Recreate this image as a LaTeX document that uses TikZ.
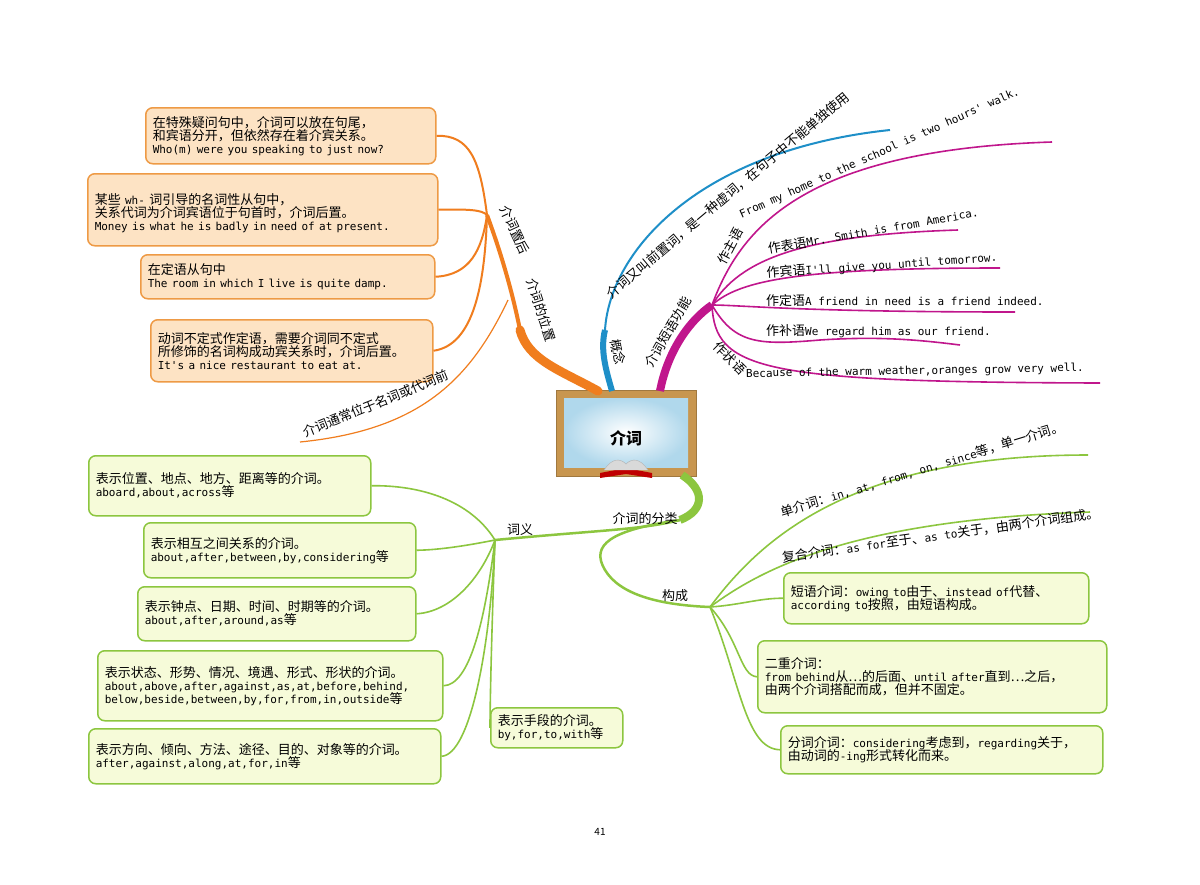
\documentclass[tikz,border=0pt]{standalone}
\usepackage{fontspec}
\setmainfont{Noto Sans CJK SC}
\newfontfamily\en{DejaVu Sans Mono}
\newcommand{\E}[1]{{\en\fontsize{11}{13}\selectfont #1}}
\definecolor{org}{HTML}{F07D1E}
\definecolor{orgfill}{HTML}{FDE3C4}
\definecolor{orgb}{HTML}{EE9A45}
\definecolor{blu}{HTML}{1E8FC8}
\definecolor{mag}{HTML}{C0168C}
\definecolor{grn}{HTML}{8CC63F}
\definecolor{grnfill}{HTML}{F6FBD9}
\definecolor{frame}{HTML}{C8964F}
\begin{document}
\begin{tikzpicture}[x=1pt,y=-1pt,
  txt/.style={font=\fontsize{13}{15}\selectfont,inner sep=1pt},
  bx/.style={line width=1.5pt,rounded corners=7pt,anchor=north west,align=left,font=\fontsize{13}{15}\selectfont,inner xsep=7pt,inner ysep=3pt},
  obox/.style={bx,draw=orgb,fill=orgfill},
  gbox/.style={bx,draw=grn,fill=grnfill},
  ol/.style={org,line width=2pt},
  ml/.style={mag,line width=1.6pt},
  gl/.style={grn,line width=1.6pt}]
\useasboundingbox (0,0) rectangle (1200,884);
\fill[white] (0,0) rectangle (1200,884);

% ---------- centre board ----------
\node[draw=frame!80!black,fill=frame,minimum width=140,minimum height=86,anchor=north west,inner sep=0] (board) at (556,390) {};
\shade[inner color=white,outer color=blu!35] (564,398) rectangle (688,467);
\node[font=\fontsize{16}{18}\selectfont\bfseries] (title) at (626,438) {介词};
\fill[red!75!black] (600,473) -- (626,468) -- (652,473) -- (652,478) -- (626,474) -- (600,478) -- cycle;
\fill[gray!30] (604,470) .. controls (612,458) and (620,458) .. (626,464) .. controls (632,458) and (640,458) .. (648,470) -- (626,470) -- cycle;
\draw[gray!60] (604,470) .. controls (612,458) and (620,458) .. (626,464) .. controls (632,458) and (640,458) .. (648,470);

% ---------- orange ----------
\coordinate (o0) at (598,391);
\coordinate (o1) at (520,330);
\coordinate (oh) at (487,215);
\draw[org,line width=9pt,line cap=round] (o0) .. controls (560,370) and (528,360) .. (o1);
\draw[org,line width=4pt] (o1) .. controls (512,290) and (500,250) .. (oh);
\node[txt,rotate=-72] (lw) at (541,310) {介词的位置};
\node[txt,rotate=-65] (lz) at (515,230) {介词置后};
\node[obox,text width=276,minimum height=56] (b1) at (145,107) {在特殊疑问句中，介词可以放在句尾，\\[-2pt]和宾语分开，但依然存在着介宾关系。\\[-2pt]\E{Who(m) were you speaking to just now?}};
\node[obox,text width=336,minimum height=72] (b2) at (87,173) {\rule{0pt}{17pt}某些 \E{wh-} 词引导的名词性从句中，\\[-2pt]关系代词为介词宾语位于句首时，介词后置。\\[-2pt]\E{Money is what he is badly in need of at present.}};
\node[obox,text width=280,minimum height=44] (b3) at (140,254) {在定语从句中\\[-2pt]\E{The room in which I live is quite damp.}};
\node[obox,text width=268,minimum height=62] (b4) at (150,319) {动词不定式作定语，需要介词同不定式\\[-2pt]所修饰的名词构成动宾关系时，介词后置。\\[-2pt]\E{It's a nice restaurant to eat at.}};
\draw[ol] (oh) .. controls (480,160) and (470,135) .. (b1.east);
\draw[ol] (oh) .. controls (482,210) and (470,209) .. (b2.east);
\draw[ol] (oh) .. controls (482,250) and (470,275) .. (b3.east);
\draw[ol] (oh) .. controls (485,280) and (475,345) .. (b4.east);
\coordinate (pre) at (300,442);
\draw[org,line width=1.2pt] (508,300) .. controls (470,380) and (420,430) .. (pre);
\node[txt,rotate=22,anchor=south west] (lpre) at (305,440) {介词通常位于名词或代词前};

% ---------- blue ----------
\coordinate (c0) at (612,391);
\coordinate (c1) at (605,330);
\coordinate (cend) at (890,130);
\draw[blu,line width=6pt] (c0) .. controls (606,370) and (600,350) .. (c1);
\draw[blu,line width=2pt] (c1) .. controls (610,250) and (700,150) .. (cend);
\node[txt,rotate=-80] (lg) at (618,352) {概念};
\node[txt,rotate=40,anchor=south west] (lc) at (612,302) {介词又叫前置词，是一种虚词，在句子中不能单独使用};

% ---------- magenta ----------
\coordinate (m0) at (660,391);
\coordinate (mh) at (712,305);
\draw[mag,line width=8pt] (m0) .. controls (668,350) and (690,320) .. (mh);
\node[txt,rotate=60] (lm) at (668,332) {介词短语功能};
\coordinate (m1) at (1052,142);
\coordinate (m2) at (958,230);
\coordinate (m3) at (1000,268);
\coordinate (m4) at (1015,312);
\coordinate (m5) at (960,345);
\coordinate (m6) at (1100,383);
\draw[ml] (mh) .. controls (740,230) and (800,150) .. (m1);
\draw[ml] (mh) .. controls (740,260) and (800,235) .. (m2);
\draw[ml] (mh) .. controls (740,280) and (800,268) .. (m3);
\draw[ml] (mh) .. controls (740,305) and (800,312) .. (m4);
\draw[ml] (mh) .. controls (735,345) and (760,345) .. (820,340) .. controls (880,336) and (920,340) .. (m5);
\draw[ml] (mh) .. controls (715,370) and (760,382) .. (m6);
\node[txt,rotate=62] (t1a) at (730,246) {作主语};
\node[txt,rotate=24,anchor=south west] (t1) at (742,222) {\E{From my home to the school is two hours' walk.}};
\node[txt,rotate=10,anchor=south west] (t2) at (768,256) {作表语\E{Mr. Smith is from America.}};
\node[txt,rotate=4,anchor=south west] (t3) at (766,281) {作宾语\E{I'll give you until tomorrow.}};
\node[txt,anchor=south west] (t4) at (765,308) {作定语\E{A friend in need is a friend indeed.}};
\node[txt,anchor=south west] (t5) at (765,339) {作补语\E{We regard him as our friend.}};
\node[txt,rotate=-45] (t6a) at (730,358) {作状语};
\node[txt,rotate=1,anchor=south west] (t6) at (745,381) {\E{Because of the warm weather,oranges grow very well.}};

% ---------- green ----------
\coordinate (g0) at (682,475);
\coordinate (g1) at (680,520);
\coordinate (gh) at (495,540);
\coordinate (kh) at (710,607);
\draw[grn,line width=8pt] (g0) .. controls (705,490) and (705,510) .. (g1);
\draw[grn,line width=2.5pt] (g1) .. controls (640,530) and (600,530) .. (gh);
\draw[grn,line width=2.5pt] (g1) .. controls (610,530) and (590,545) .. (605,570) .. controls (620,595) and (660,605) .. (kh);
\node[txt] (lfl) at (645,519) {介词的分类};
\node[txt] (lcy) at (520,530) {词义};
\node[txt] (lgc) at (675,596) {构成};

\node[gbox,text width=268,minimum height=60] (l1) at (88,455) {表示位置、地点、地方、距离等的介词。\\[-2pt]\E{aboard,about,across}等};
\node[gbox,text width=258,minimum height=55] (l2) at (143,522) {表示相互之间关系的介词。\\[-2pt]\E{about,after,between,by,considering}等};
\node[gbox,text width=264,minimum height=54] (l3) at (137,586) {表示钟点、日期、时间、时期等的介词。\\[-2pt]\E{about,after,around,as}等};
\node[gbox,text width=331,minimum height=70] (l4) at (97,650) {表示状态、形势、情况、境遇、形式、形状的介词。\\[-2pt]\E{about,above,after,against,as,at,before,behind,}\\[-2pt]\E{below,beside,between,by,for,from,in,outside}等};
\node[gbox,text width=338,minimum height=55] (l5) at (88,728) {表示方向、倾向、方法、途径、目的、对象等的介词。\\[-2pt]\E{after,against,along,at,for,in}等};
\node[gbox,text width=118,minimum height=40] (l6) at (490,707) {表示手段的介词。\\[-2pt]\E{by,for,to,with}等};
\draw[gl] (gh) .. controls (470,500) and (420,485) .. (l1.east);
\draw[gl] (gh) .. controls (470,545) and (440,550) .. (l2.east);
\draw[gl] (gh) .. controls (480,580) and (450,612) .. (l3.east);
\draw[gl] (gh) .. controls (485,620) and (470,685) .. (l4.east);
\draw[gl] (gh) .. controls (490,650) and (470,755) .. (l5.east);
\draw[gl] (gh) .. controls (492,620) and (490,700) .. (l6.west);

\coordinate (k1) at (1088,455);
\coordinate (k2) at (1090,512);
\draw[gl] (kh) .. controls (760,540) and (850,455) .. (k1);
\draw[gl] (kh) .. controls (760,570) and (850,520) .. (k2);
\node[txt,rotate=17,anchor=south west] (tk1) at (782,520) {单介词：\E{in, at, from, on, since}等，单一介词。};
\node[txt,rotate=8,anchor=south west] (tk2) at (782,565) {复合介词：\E{as for}至于、\E{as to}关于，由两个介词组成。};
\node[gbox,text width=291,minimum height=51] (r3) at (783,572) {短语介词：\E{owing to}由于、\E{instead of}代替、\\[-2pt]\E{according to}按照，由短语构成。};
\node[gbox,text width=335,minimum height=72] (r4) at (757,640) {二重介词：\\[-2pt]\E{from behind}从…的后面、\E{until after}直到…之后，\\[-2pt]由两个介词搭配而成，但并不固定。};
\node[gbox,text width=308,minimum height=48] (r5) at (780,725) {分词介词：\E{considering}考虑到，\E{regarding}关于，\\[-2pt]由动词的\E{-ing}形式转化而来。};
\draw[gl] (kh) .. controls (740,605) and (760,598) .. (r3.west);
\draw[gl] (kh) .. controls (740,640) and (740,676) .. (r4.west);
\draw[gl] (kh) .. controls (740,680) and (745,749) .. (r5.west);

\node[font=\fontsize{10}{12}\selectfont] (pg) at (600,832) {41};
\end{tikzpicture}
\end{document}
